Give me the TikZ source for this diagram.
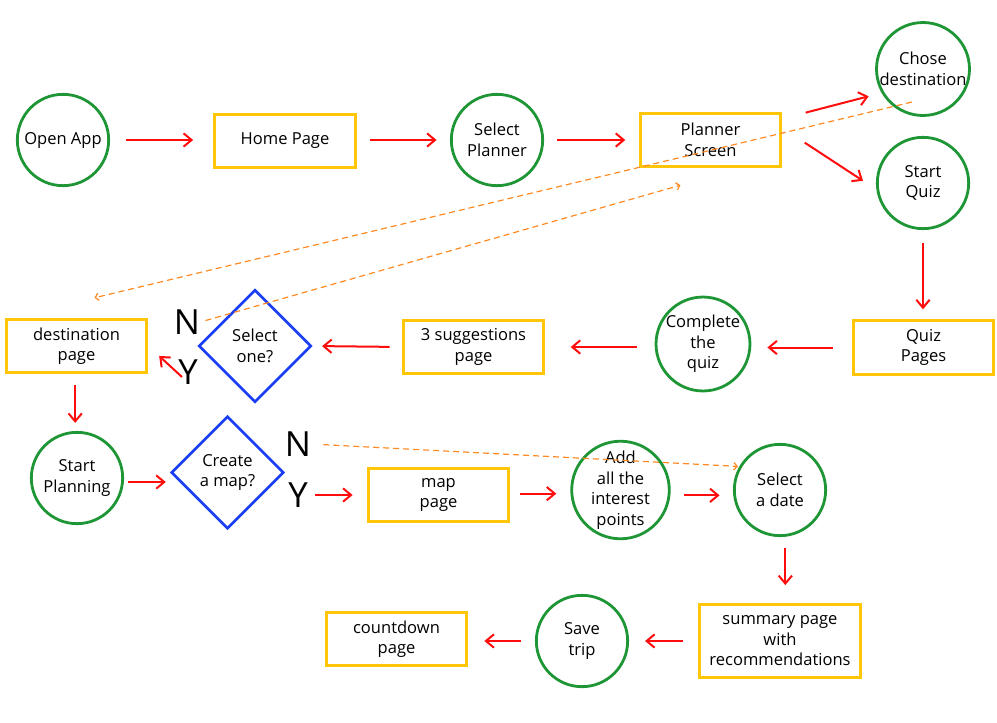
\documentclass[tikz,border=0pt]{standalone}
\usepackage{fontspec}
\setmainfont{Open Sans}
\usetikzlibrary{arrows.meta,positioning,shapes.geometric}
\definecolor{stepgreen}{HTML}{1E9636}
\definecolor{pageyellow}{HTML}{FFC507}
\definecolor{askblue}{HTML}{1A3EF5}
\definecolor{flowred}{HTML}{FF0D0D}
\definecolor{skiporange}{HTML}{FF8A24}

\begin{document}
\begin{tikzpicture}[x=0.75pt,y=-0.75pt,
  font=\fontsize{12.4}{15.4}\selectfont,
  action/.style={circle, draw=stepgreen, line width=2.1pt, minimum size=68.5pt, inner sep=0pt, align=center},
  page/.style={rectangle, draw=pageyellow, line width=2.3pt, minimum width=105.5pt, minimum height=40pt, inner sep=0pt, align=center},
  ask/.style={diamond, draw=askblue, line width=2.1pt, minimum width=84.5pt, minimum height=84.5pt, inner sep=0pt, align=center},
  answer/.style={inner sep=0pt, font=\fontsize{26}{30}\selectfont},
  flow/.style={draw=flowred, line width=1.5pt, -{Straight Barb[length=6pt,width=10pt,line width=1.5pt]}},
  skip/.style={draw=skiporange, line width=0.9pt, dash pattern=on 4.5pt off 3pt, -{Straight Barb[length=2.5pt,width=5.5pt,line width=0.9pt]}}
]
\useasboundingbox (0,0) rectangle (997,722);

\node[action] (openapp) at (63,140) {Open App};
\node[page] (homepage) at (285,141) {Home Page};
\node[action] (selectplanner) at (497,140) {Select\\Planner};
\node[page] (planner) at (710.5,140) {Planner\\Screen};
\node[action] (chose) at (923,69) {Chose\\destination};
\node[action] (startquiz) at (923,183) {Start\\Quiz};
\node[page] (quizpages) at (923.5,347.5) {Quiz\\Pages};
\node[action] (completequiz) at (703,344) {Complete\\the\\quiz};
\node[page] (suggestions) at (473.5,347) {3 suggestions\\page};
\node[ask] (selectone) at (255,346) {Select\\one?};
\node[page] (destpage) at (76.5,346) {destination\\page};
\node[answer] (onno) at (187,322) {N};
\node[answer] (oneyes) at (188,372) {Y};
\node[action] (startplanning) at (77,478) {Start\\Planning};
\node[ask] (createmap) at (227.5,472.5) {Create\\a map?};
\node[answer] (createno) at (298,444) {N};
\node[answer] (createyes) at (298,495) {Y};
\node[page] (mappage) at (438.5,495) {map\\page};
\node[action] (addpoints) at (620.5,490) {Add\\all the\\interest\\points};
\node[action] (selectdate) at (780,490) {Select\\a date};
\node[page, minimum width=120.5pt, minimum height=54.5pt] (summary) at (780,641) {summary page\\with\\recommendations};
\node[action] (savetrip) at (582,641) {Save\\trip};
\node[page] (countdown) at (396.5,639) {countdown\\page};

\draw[flow, shorten <=12pt, shorten >=15pt] (openapp.east) -- (openapp.east -| homepage.west);
\draw[flow, shorten <=10pt, shorten >=10pt] (homepage.east |- selectplanner.west) -- (selectplanner.west);
\draw[flow, shorten <=10pt, shorten >=10pt] (selectplanner) -- (planner);
\draw[flow, shorten <=18pt, shorten >=10pt] ([yshift=16pt]planner.east) -- (chose.210);
\draw[flow, shorten <=20pt, shorten >=12pt] ([yshift=9pt]planner.east) -- (startquiz.188);
\draw[flow, shorten <=10pt, shorten >=7.5pt] (startquiz.south) -- (startquiz.south |- quizpages.north);
\draw[flow, shorten <=14pt, shorten >=12pt] (quizpages.west) -- (completequiz.east |- quizpages.west);
\draw[flow, shorten <=13.5pt, shorten >=19pt] (completequiz.west |- suggestions.east) -- (suggestions.east);
\draw[flow, shorten <=9pt, shorten >=7pt] (suggestions.west) -- (selectone.east);
\draw[flow, shorten >=11pt] ([shift={(-6,5)}]oneyes.center) -- (destpage.east);
\draw[flow, shorten <=8pt, shorten >=6pt] ([xshift=-1]destpage.south) -- ([xshift=-1]destpage.south |- startplanning.north);
\draw[flow, shorten <=3pt, shorten >=3pt] ([yshift=-3]startplanning.east) -- ([yshift=-3]startplanning.east -| createmap.west);
\draw[flow, shorten <=5pt, shorten >=10.5pt] (createyes.east) -- (mappage.west);
\draw[flow, shorten <=7.5pt, shorten >=10.5pt] ([yshift=1]mappage.east) -- ([yshift=1]mappage.east -| addpoints.west);
\draw[flow, shorten <=10pt, shorten >=10pt] ([yshift=-4]addpoints.east) -- ([yshift=-4]selectdate.west);
\draw[flow, shorten <=8pt, shorten >=13.5pt] ([xshift=4]selectdate.south) -- ([xshift=4]summary.north);
\draw[flow, shorten <=11pt, shorten >=12pt] (summary.west) -- (savetrip.east);
\draw[flow, shorten <=10.5pt, shorten >=12pt] (savetrip.west) -- (savetrip.west -| countdown.east);

\draw[skip] ([shift={(-11,33)}]chose.center) -- ([shift={(18,-20)}]destpage.north);
\draw[skip, shorten <=4pt] (onno.east) -- ([shift={(-30,17)}]planner.south);
\draw[skip, shorten <=9pt, shorten >=1pt] (createno.east) -- (selectdate.150);
\end{tikzpicture}
\end{document}
